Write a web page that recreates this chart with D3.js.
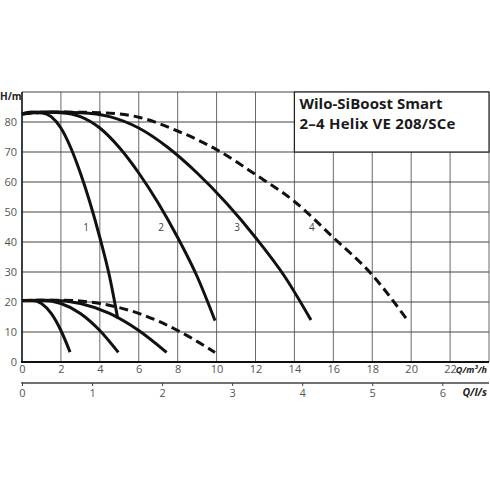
<!DOCTYPE html>
<html>
<head>
<meta charset="utf-8">
<script src="https://cdn.jsdelivr.net/npm/d3@7"></script>
<style>
  body { margin: 0; background: #fff; }
  svg { display: block; font-family: "Open Sans", sans-serif; }
</style>
</head>
<body>
<svg id="chart" width="490" height="490"></svg>
<script>
// pump curves, Q in m³/h, H in m (1 to 4 pumps running)
const curve1 = [[0,82.7],[0.5,83.3],[1,83.1],[1.5,81.8],[2,78],[2.5,71.5],[3,63],[3.5,53],[4,41.5],[4.5,28.5],[4.92,14.5]];
const curve2 = [[0,82.7],[1,83.3],[2,83.1],[3,81.8],[4,78],[5,71.5],[6,63],[7,53],[8,41.5],[9,28.5],[9.92,13.8]];
const curve3 = [[0,82.7],[1.5,83.3],[3,83.1],[4.5,81.8],[6,78],[7.5,71.5],[9,63],[10.5,53],[12,41.5],[13.5,28.5],[14.85,14]];
const curve4 = [[0,82.7],[2,83.3],[4,83.1],[6,81.6],[8,77],[10,70.8],[12,62.5],[14,53.5],[16,41.5],[18,29],[19.77,14.3]];

// lower speed curves
const low1 = [[0,20.5],[0.5,20.6],[1,19.5],[1.5,16.2],[2,10.5],[2.47,3.3]];
const low2 = [[0,20.5],[1,20.6],[2,19.5],[3,16.2],[4,10.5],[4.95,3.2]];
const low3 = [[0,20.5],[1.5,20.6],[3,19.5],[4.5,16.2],[6,10.5],[7.43,3.2]];
const low4 = [[0,20.5],[2,20.6],[4,19.5],[6,16.2],[8,10.5],[9.92,3.2]];

const curveLabels = ["1", "2", "3", "4"];
const labelQ = [3.3, 7.15, 11.05, 14.9];
const labelH = 45;

const qTicks = [0,2,4,6,8,10,12,14,16,18,20,22];
const qGrid = [0,2,4,6,8,10,12,14,16,18,20,22,24];
const hTicks = [0,10,20,30,40,50,60,70,80];
const hGrid = [0,10,20,30,40,50,60,70,80,90];
const lsTicks = [0,1,2,3,4,5,6];

const titleLines = ["Wilo-SiBoost Smart", "2\u20134 Helix VE 208/SCe"];

(function() {
  const svg = d3.select("#chart");

  const x = d3.scaleLinear().domain([0, 24]).range([22, 489]);
  const y = d3.scaleLinear().domain([0, 90]).range([362, 92]);
  const xls = d3.scaleLinear().domain([0, 24 / 3.6]).range([22, 489]);

  // grid
  svg.append("g").selectAll("line")
    .data(qGrid)
    .join("line")
    .attr("x1", d => x(d)).attr("x2", d => x(d))
    .attr("y1", y(0)).attr("y2", y(90))
    .attr("stroke", "#6a6a6a")
    .attr("stroke-width", 1);

  svg.append("g").selectAll("line")
    .data(hGrid)
    .join("line")
    .attr("x1", x(0)).attr("x2", x(24))
    .attr("y1", d => y(d)).attr("y2", d => y(d))
    .attr("stroke", "#444")
    .attr("stroke-width", 1);

  // frame lines
  svg.append("line")
    .attr("x1", x(0)).attr("x2", x(0))
    .attr("y1", y(90)).attr("y2", y(0))
    .attr("stroke", "#222").attr("stroke-width", 1.6);
  svg.append("line")
    .attr("x1", x(0) - 1).attr("x2", x(24))
    .attr("y1", y(0)).attr("y2", y(0))
    .attr("stroke", "#111").attr("stroke-width", 2);

  // title box
  svg.append("rect")
    .attr("x", x(14)).attr("y", y(90))
    .attr("width", x(24) - x(14)).attr("height", y(70) - y(90))
    .attr("fill", "#fff")
    .attr("stroke", "#222")
    .attr("stroke-width", 1.2);

  const titleWidths = [143, 156];
  svg.append("g").selectAll("text")
    .data(titleLines)
    .join("text")
    .attr("x", x(14) + 5)
    .attr("y", (d, i) => 109 + i * 20)
    .attr("font-size", 15)
    .attr("font-weight", "bold")
    .attr("fill", "#1a1a1a")
    .attr("textLength", (d, i) => titleWidths[i])
    .attr("lengthAdjust", "spacing")
    .text(d => d);

  // curves
  const line = d3.line()
    .x(d => x(d[0]))
    .y(d => y(d[1]))
    .curve(d3.curveMonotoneX);

  const solid = [curve1, curve2, curve3, low1, low2, low3];
  const dashed = [curve4, low4];

  svg.append("g").selectAll("path")
    .data(solid)
    .join("path")
    .attr("d", line)
    .attr("fill", "none")
    .attr("stroke", "#111")
    .attr("stroke-width", 3);

  svg.append("g").selectAll("path")
    .data(dashed)
    .join("path")
    .attr("d", line)
    .attr("fill", "none")
    .attr("stroke", "#111")
    .attr("stroke-width", 3)
    .attr("stroke-dasharray", "9,5");

  svg.append("g").selectAll("text")
    .data(curveLabels)
    .join("text")
    .attr("x", (d, i) => x(labelQ[i]))
    .attr("y", y(labelH))
    .attr("text-anchor", "middle")
    .attr("dominant-baseline", "central")
    .attr("font-size", 10)
    .attr("fill", "#444")
    .text(d => d);

  // y axis labels
  const yAxis = svg.append("g")
    .attr("transform", `translate(${x(0)},0)`)
    .call(d3.axisLeft(y).tickValues(hTicks).tickSize(0).tickPadding(5));
  yAxis.select(".domain").remove();
  yAxis.selectAll("text")
    .attr("font-family", "Open Sans, sans-serif")
    .attr("font-size", 11)
    .attr("fill", "#555");

  svg.append("text")
    .attr("x", 0).attr("y", 100)
    .attr("font-size", 10)
    .attr("font-weight", "bold")
    .attr("fill", "#222")
    .text("H/m");

  // Q m³/h axis labels
  const xAxis = svg.append("g")
    .attr("transform", `translate(0,${y(0)})`)
    .call(d3.axisBottom(x).tickValues(qTicks).tickSize(0).tickPadding(3));
  xAxis.select(".domain").remove();
  xAxis.selectAll("text")
    .attr("font-family", "Open Sans, sans-serif")
    .attr("font-size", 11)
    .attr("fill", "#555");

  svg.append("text")
    .attr("x", 487).attr("y", 373)
    .attr("text-anchor", "end")
    .attr("font-size", 9)
    .attr("font-weight", "bold")
    .attr("font-style", "italic")
    .attr("fill", "#222")
    .text("Q/m³/h");

  // Q l/s axis
  const lsAxis = svg.append("g")
    .attr("transform", "translate(0,383)")
    .call(d3.axisBottom(xls).tickValues(lsTicks).tickSize(3).tickPadding(3).tickFormat(d3.format("d")));
  lsAxis.select(".domain")
    .attr("d", `M${x(0)},-1V0H${x(24)}`)
    .attr("stroke", "#444")
    .attr("stroke-width", 1.5);
  lsAxis.selectAll(".tick line").attr("stroke", "#444");
  lsAxis.selectAll("text")
    .attr("font-family", "Open Sans, sans-serif")
    .attr("font-size", 11)
    .attr("fill", "#555");

  svg.append("text")
    .attr("x", 487).attr("y", 396)
    .attr("text-anchor", "end")
    .attr("font-size", 10.5)
    .attr("font-weight", "bold")
    .attr("font-style", "italic")
    .attr("fill", "#222")
    .text("Q/l/s");
})();
</script>
</body>
</html>
